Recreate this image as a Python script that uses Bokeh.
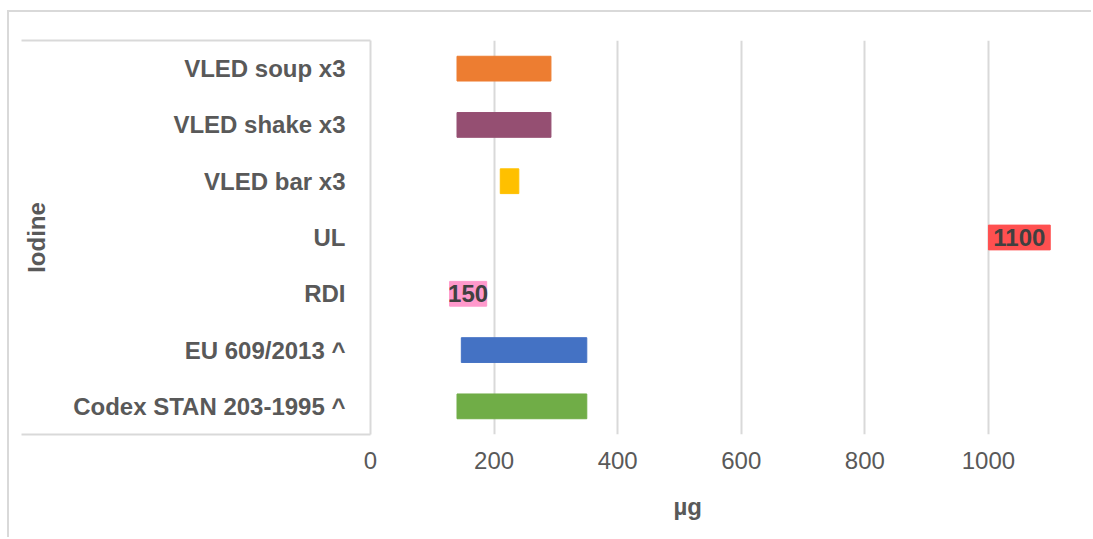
from bokeh.plotting import figure
from bokeh.models import ColumnDataSource, Range1d, FixedTicker, Title
from bokeh.core.properties import value
from bokeh.embed import file_html
from bokeh.resources import INLINE

# ---- data (bottom to top) ----
categories = ["Codex STAN 203-1995 ^", "EU 609/2013 ^", "RDI", "UL",
              "VLED bar x3", "VLED shake x3", "VLED soup x3"]
range_low = [140, 147, 128, 1000, 210, 140, 140]
range_high = [350, 350, 188, 1100, 240, 292, 292]
data_labels = ["", "", "150", "1100", "", "", ""]
bar_colors = ["#70AD47", "#4472C4", "#FF99CC", "#FF5050", "#FFC000", "#954F72", "#ED7D31"]
x_ticks = [0, 200, 400, 600, 800, 1000]
group_label = "Iodine"
x_title = "µg"

FONT = "Liberation Sans"
GRID = "#d9d9d9"
TXT = "#595959"

n = len(categories)
ypos = [i + 0.5 for i in range(n)]

src = ColumnDataSource(dict(
    y=ypos, lo=range_low, hi=range_high,
    mid=[(a + b) / 2 for a, b in zip(range_low, range_high)],
    lab=data_labels, color=bar_colors))

p = figure(width=1084, height=527, y_range=Range1d(0, n),
           x_range=Range1d(0, 1170), output_backend="svg", toolbar_location=None,
           min_border_left=361, min_border_right=0, min_border_top=28,
           min_border_bottom=105)
p.outline_line_color = None
p.background_fill_color = "white"
p.styles = {"border-top": f"2px solid {GRID}", "border-left": f"2px solid {GRID}",
            "margin-top": "10px", "margin-left": "7px"}

p.hbar(y="y", left="lo", right="hi", height=0.44, color="color", source=src)
p.text(x="mid", y="y", text="lab", text_align="center", text_baseline="middle",
       text_font=value(FONT), text_font_style="bold", text_font_size="24px",
       text_color="#404040", source=src)

# grid
p.ygrid.grid_line_color = None
p.xgrid.ticker = FixedTicker(ticks=x_ticks[1:])
p.xgrid.grid_line_color = GRID
p.xgrid.grid_line_width = 2

# x axis
p.xaxis.ticker = FixedTicker(ticks=x_ticks)
p.xaxis.axis_line_color = None
p.xaxis.major_tick_line_color = None
p.xaxis.minor_tick_line_color = None
p.xaxis.major_label_text_font = FONT
p.xaxis.major_label_text_font_size = "24px"
p.xaxis.major_label_text_color = TXT
p.xaxis.major_label_standoff = 11

# y axis: category labels at centres, category-box lines as long minor ticks
yax = p.yaxis[0]
yax.ticker = FixedTicker(ticks=ypos, minor_ticks=[0, n])
yax.major_label_overrides = {y: c for y, c in zip(ypos, categories)}
yax.axis_line_color = GRID
yax.axis_line_width = 2
yax.major_tick_line_color = None
yax.major_tick_out = 0
yax.major_tick_in = 0
yax.minor_tick_line_color = GRID
yax.minor_tick_line_width = 2
yax.minor_tick_in = 0
yax.minor_tick_out = 349
yax.major_label_text_font = FONT
yax.major_label_text_font_style = "bold"
yax.major_label_text_font_size = "24px"
yax.major_label_text_color = TXT
yax.major_label_standoff = -324
yax.axis_label = group_label
yax.axis_label_text_font = FONT
yax.axis_label_text_font_style = "bold"
yax.axis_label_text_font_size = "24px"
yax.axis_label_text_color = TXT
yax.axis_label_standoff = 20

# x-axis title, placed under the tick labels
p.add_layout(Title(text=x_title, align="left", offset=303, standoff=39,
                   text_font=FONT, text_font_style="bold", text_font_size="24px",
                   text_color=TXT), "below")

open("out.html", "w").write(file_html(p, INLINE))
